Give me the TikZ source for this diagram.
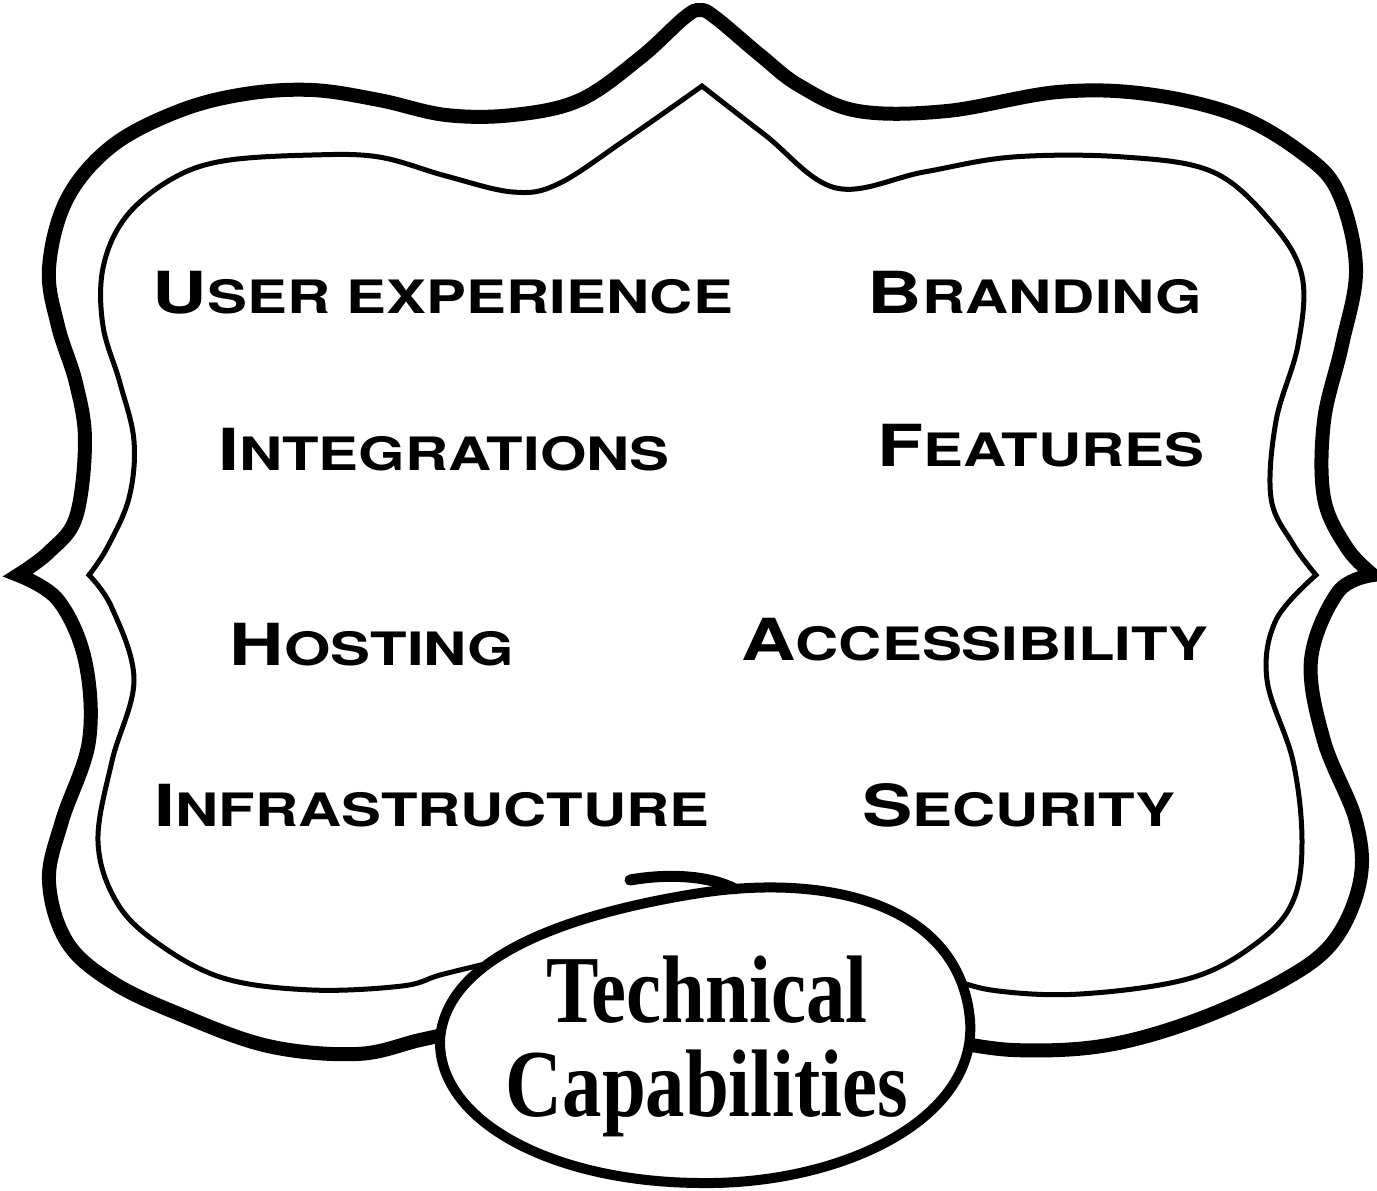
\documentclass[tikz,border=0pt]{standalone}
\usepackage{fontspec}
\newfontfamily\capsfont[FakeStretch=1.3]{TeX Gyre Heros}
\newfontfamily\titlefont[FakeStretch=0.82]{Liberation Serif}
\newcommand{\capword}[2]{{\capsfont\bfseries\fontsize{29}{30}\selectfont #1\fontsize{23}{24}\selectfont #2}}

\begin{document}
\begin{tikzpicture}[
    x=0.5pt, y=-0.5pt,
    line join=miter, miter limit=20,
    outerline/.style={line width=7pt},
    innerline/.style={line width=2.5pt},
    loopline/.style={line width=5pt, fill=white},
    word/.style={inner sep=0pt, anchor=center},
    goth/.style={inner sep=0pt, font=\titlefont\bfseries\fontsize{48}{50}\selectfont}
]
\useasboundingbox (0,0) rectangle (1377,1190);

% Outer frame (ends hidden under the title loop)
\draw[outerline]
  plot[smooth, tension=0.6] coordinates {(475,1028) (420,1040) (357,1054) (268,1046) (179,1014) (112,982) (67,942) (49,881) (62,821) (89,741) (85,660) (58,600) (18,575)}
  -- plot[smooth, tension=0.6] coordinates {(18,575) (49,552) (76,517) (85,441) (76,383) (58,326) (49,268) (67,199) (112,146) (179,111) (245,94) (312,90) (379,100) (446,115) (513,115) (580,100) (640,58) (684,18) (700,10) (716,18) (760,55) (800,86) (858,111) (947,111) (1058,92) (1147,94) (1236,115) (1302,153) (1338,192) (1356,268) (1342,345) (1324,421) (1324,498) (1347,548) (1373,575)}
  -- plot[smooth, tension=0.6] coordinates {(1373,575) (1338,592) (1311,660) (1324,741) (1356,821) (1360,881) (1333,942) (1280,982) (1191,1022) (1102,1046) (1013,1050) (945,1040)};

% Inner frame
\draw[innerline]
  plot[smooth, tension=0.6] coordinates {(485,964) (440,975) (402,986) (312,990) (223,978) (156,942) (116,901) (98,841) (112,761) (134,680) (112,608) (89,575)}
  -- plot[smooth, tension=0.6] coordinates {(89,575) (107,548) (129,498) (134,441) (120,383) (103,326) (103,268) (125,218) (170,180) (223,161) (312,155) (379,157) (446,176) (513,192) (558,184) (625,140) (702,86)}
  -- plot[smooth, tension=0.6] coordinates {(702,86) (765,135) (836,188) (924,172) (1013,157) (1124,157) (1213,172) (1271,222) (1302,276) (1298,345) (1276,421) (1271,498) (1293,544) (1316,575)}
  -- plot[smooth, tension=0.6] coordinates {(1316,575) (1276,620) (1267,680) (1293,761) (1302,841) (1293,901) (1258,942) (1191,978) (1080,994) (991,990) (940,974)};

% Title loop
\draw[loopline] (440,1040) .. controls (445,960) and (560,915) .. (700,893)
  .. controls (830,873) and (960,905) .. (970,1020)
  .. controls (978,1120) and (840,1185) .. (700,1183)
  .. controls (550,1182) and (438,1120) .. (440,1040) -- cycle;
\draw[line width=5.5pt, line cap=round] (630,880) .. controls (670,873) and (710,876) .. (735,889);

% Items
\node[word] (ux)     at (443,293)  {\capword{U}{SER EXPERIENCE}};
\node[word] (brand)  at (1035,293) {\capword{B}{RANDING}};
\node[word] (integ)  at (444,450)  {\capword{I}{NTEGRATIONS}};
\node[word] (feat)   at (1041,446) {\capword{F}{EATURES}};
\node[word] (host)   at (372,645)  {\capword{H}{OSTING}};
\node[word] (access) at (975,640)  {\capword{A}{CCESSIBILITY}};
\node[word] (infra)  at (432,806)  {\capword{I}{NFRASTRUCTURE}};
\node[word] (secur)  at (1019,805) {\capword{S}{ECURITY}};

% Title
\node[goth] (tech) at (707,990)  {Technical};
\node[goth] (capa) at (707,1093) {Capabilities};

\end{tikzpicture}
\end{document}
